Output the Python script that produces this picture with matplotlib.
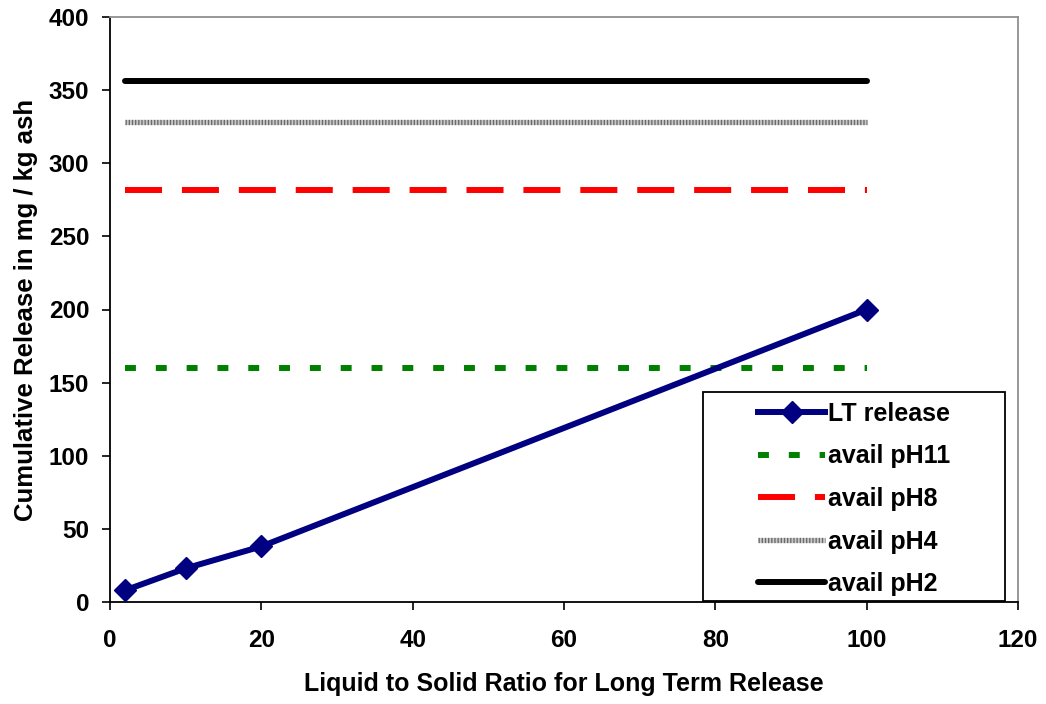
import matplotlib
matplotlib.use("Agg")
import matplotlib.pyplot as plt
from matplotlib.patches import Rectangle
from matplotlib.legend_handler import HandlerTuple

plt.rcParams['font.family'] = ['Liberation Sans', 'DejaVu Sans']
plt.rcParams['font.weight'] = 'bold'

lt_x = [2, 10, 20, 100]
lt_y = [8, 23, 38, 200]
avail_x = [2, 100]
avail_ph11 = 160
avail_ph8 = 282
avail_ph4 = 328
avail_ph2 = 356

x_ticks = [0, 20, 40, 60, 80, 100, 120]
y_ticks = [0, 50, 100, 150, 200, 250, 300, 350, 400]

W, H = 1046, 704
AX_L, AX_R, AX_T, AX_B = 110, 1018, 17, 602

fig = plt.figure(figsize=(W/100, H/100), dpi=100)
ax = fig.add_axes([AX_L/W, 1-AX_B/H, (AX_R-AX_L)/W, (AX_B-AX_T)/H])

def ax_frac(px, py):
    return (px-AX_L)/(AX_R-AX_L), (AX_B-py)/(AX_B-AX_T)

h_lt, = ax.plot(lt_x, lt_y, color='#000080', lw=4.3, marker='D', markersize=11,
                label='LT release', zorder=5, solid_joinstyle='round')
h11, = ax.plot(avail_x, [avail_ph11]*2, color='#008000', lw=4.3, dashes=(1.83, 3.33),
               dash_capstyle='butt', label='avail pH11')
h8, = ax.plot(avail_x, [avail_ph8]*2, color='#ff0000', lw=4.3, dashes=(6.2, 3.33),
              dash_capstyle='butt', label='avail pH8')
h4a, = ax.plot(avail_x, [avail_ph4]*2, color='#c8c8c8', lw=3.8, solid_capstyle='butt')
h4b, = ax.plot(avail_x, [avail_ph4]*2, color='#6a6a6a', lw=3.8, dashes=(0.25, 0.35),
               dash_capstyle='butt')
h2, = ax.plot(avail_x, [avail_ph2]*2, color='black', lw=4.3, solid_capstyle='round',
              label='avail pH2')

ax.set_xlim(0, 120)
ax.set_ylim(0, 400)
ax.set_xticks(x_ticks)
ax.set_yticks(y_ticks)
ax.tick_params(direction='out', length=6, width=1.2, labelsize=17.5)
ax.tick_params(axis='x', pad=13.5)
ax.tick_params(axis='y', pad=9)
for lbl in ax.get_xticklabels() + ax.get_yticklabels():
    lbl.set_fontweight('bold')

ax.spines['left'].set_color('black')
ax.spines['bottom'].set_color('black')
ax.spines['top'].set_color('#909090')
ax.spines['right'].set_color('#909090')
for s in ax.spines.values():
    s.set_linewidth(1.3)

ax.set_xlabel('Liquid to Solid Ratio for Long Term Release', fontsize=18,
              fontweight='bold', labelpad=14)
ax.set_ylabel('Cumulative Release in mg / kg ash', fontsize=18.5,
              fontweight='bold', labelpad=8)

# legend frame
fx0, fy0 = ax_frac(703, 601)
fx1, fy1 = ax_frac(1005, 392)
ax.add_patch(Rectangle((fx0, fy0), fx1-fx0, fy1-fy0, transform=ax.transAxes,
                       facecolor='white', edgecolor='black', lw=1.3, zorder=9,
                       clip_on=False))

lx, ly = ax_frac(758, 402)
leg = ax.legend([h_lt, h11, h8, (h4a, h4b), h2],
                ['LT release', 'avail pH11', 'avail pH8', 'avail pH4', 'avail pH2'],
                handler_map={tuple: HandlerTuple(ndivide=1, pad=0)},
                loc='upper left', bbox_to_anchor=(lx, ly),
                prop={'size': 18, 'weight': 'bold'}, frameon=False,
                handlelength=2.7, handletextpad=0.12, labelspacing=0.74,
                borderpad=0, borderaxespad=0)
leg.set_zorder(10)

fig.savefig('out.png', dpi=100)
